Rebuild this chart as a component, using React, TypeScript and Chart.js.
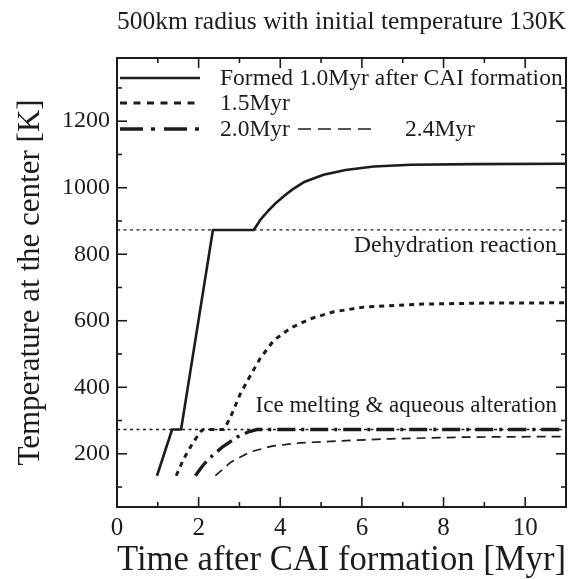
import React, { useEffect, useRef } from 'react';
import { Chart, registerables } from 'chart.js';
Chart.register(...registerables);

// ---------- text ----------
const titleText = '500km radius with initial temperature 130K';
const xTitle = 'Time after CAI formation [Myr]';
const yTitle = 'Temperature at the center [K]';
const legendLabels = ['Formed 1.0Myr after CAI formation', '1.5Myr', '2.0Myr', '2.4Myr'];
const dehydrationLabel = 'Dehydration reaction';
const iceLabel = 'Ice melting & aqueous alteration';

// ---------- axes ----------
const xMin = 0, xMax = 11, xMajorStep = 2, xMinorStep = 1;
const yMin = 40, yMax = 1390, yMajorStep = 200, yMinorStep = 100;
const xTickLabels = [0, 2, 4, 6, 8, 10];
const yTickLabels = [200, 400, 600, 800, 1000, 1200];

// ---------- reference temperatures ----------
const dehydrationTemp = 873;
const iceMeltTemp = 273;
const refLineX = [0, 11];

// ---------- series ----------
const f10X = [0.98, 1.35, 1.57, 2.35, 3.35, 3.51, 3.7, 3.9, 4.1, 4.3, 4.6, 5.06, 5.6, 6.29, 7.2, 8.75, 11];
const f10Y = [134, 273, 273, 873, 873, 903, 930, 955, 976, 995, 1018, 1039, 1053, 1064, 1069, 1071, 1072];

const f15X = [1.45, 1.63, 1.87, 2.05, 2.12, 2.62, 2.78, 3.02, 3.27, 3.51, 3.84, 4.25, 4.74, 5.31, 6.05, 7.5, 9, 11];
const f15Y = [134, 184, 235, 267, 273, 273, 310, 380, 436, 487, 541, 578, 606, 627, 641, 650, 653, 654];

const f20X = [1.92, 2.08, 2.24, 2.57, 2.94, 3.2, 3.42, 11];
const f20Y = [134, 161, 184, 219, 250, 265, 273, 273];

const f24X = [2.41, 2.78, 3.27, 3.8, 4.5, 5.5, 6.7, 8.5, 11];
const f24Y = [134, 174, 206, 223, 233, 239, 245, 250, 252];

const serif = '"Liberation Serif", "Times New Roman", serif';
const ink = '#1c1c1c';

const pts = (xs: number[], ys: number[]) => xs.map((x, i) => ({ x, y: ys[i] }));

const seriesStyles = [
  { dash: [] as number[], width: 2.6, legendDash: [] as number[] },
  { dash: [5, 5], width: 3, legendDash: [7, 6.5] },
  { dash: [18, 6, 3, 6], width: 3.4, legendDash: [23, 8, 4, 9] },
  { dash: [9, 6], width: 1.7, legendDash: [13, 7] },
];

export default function App() {
  const ref = useRef<HTMLCanvasElement>(null);
  useEffect(() => {
    const canvas = ref.current!;

    const decor = {
      id: 'decor',
      afterDatasetsDraw(chart: any) {
        const { ctx, chartArea: a, scales } = chart;
        const x = scales.x, y = scales.y;
        ctx.save();
        ctx.strokeStyle = ink;
        ctx.setLineDash([]);
        ctx.lineWidth = 1.6;
        const seg = (x1: number, y1: number, x2: number, y2: number) => {
          ctx.beginPath(); ctx.moveTo(x1, y1); ctx.lineTo(x2, y2); ctx.stroke();
        };
        for (let v = xMin; v <= xMax + 1e-9; v += xMinorStep) {
          const px = x.getPixelForValue(v);
          const len = Math.abs(v % xMajorStep) < 1e-9 ? 10 : 5;
          seg(px, a.bottom, px, a.bottom - len);
          seg(px, a.top, px, a.top + len);
        }
        const yStart = Math.ceil(yMin / yMinorStep) * yMinorStep;
        for (let v = yStart; v <= yMax + 1e-9; v += yMinorStep) {
          const py = y.getPixelForValue(v);
          const len = Math.abs(v % yMajorStep) < 1e-9 ? 10 : 5;
          seg(a.left, py, a.left + len, py);
          seg(a.right, py, a.right - len, py);
        }
        ctx.lineWidth = 2;
        ctx.strokeRect(a.left, a.top, a.right - a.left, a.bottom - a.top);
        ctx.restore();
      },
      afterDraw(chart: any) {
        const { ctx, chartArea: a, scales } = chart;
        const x = scales.x, y = scales.y;
        ctx.save();
        ctx.fillStyle = ink;
        ctx.strokeStyle = ink;
        ctx.textBaseline = 'middle';
        // reference labels
        ctx.textAlign = 'right';
        ctx.font = `24px ${serif}`;
        ctx.fillText(dehydrationLabel, x.getPixelForValue(10.78), y.getPixelForValue(dehydrationTemp) + 16);
        ctx.font = `23px ${serif}`;
        ctx.fillText(iceLabel, x.getPixelForValue(10.78), y.getPixelForValue(iceMeltTemp) - 24);
        // legend
        ctx.font = `23.5px ${serif}`;
        ctx.textAlign = 'left';
        const rows = [a.top + 20, a.top + 45, a.top + 71, a.top + 71];
        const lx0 = [a.left + 3, a.left + 3, a.left + 3, a.left + 181];
        const lx1 = [a.left + 83, a.left + 83, a.left + 83, a.left + 260];
        const tx = [a.left + 103, a.left + 103, a.left + 103, a.left + 288];
        legendLabels.forEach((lab, i) => {
          const st = seriesStyles[i];
          ctx.lineWidth = st.width;
          ctx.setLineDash(st.legendDash);
          ctx.beginPath();
          ctx.moveTo(lx0[i], rows[i]);
          ctx.lineTo(lx1[i], rows[i]);
          ctx.stroke();
          ctx.setLineDash([]);
          ctx.fillText(lab, tx[i], rows[i] + 1);
        });
        ctx.restore();
      },
    };

    const series = [pts(f10X, f10Y), pts(f15X, f15Y), pts(f20X, f20Y), pts(f24X, f24Y)];
    const datasets: any[] = series.map((d, i) => ({
      label: legendLabels[i],
      data: d,
      borderColor: ink,
      borderWidth: seriesStyles[i].width,
      borderDash: seriesStyles[i].dash,
      borderCapStyle: 'butt',
      borderJoinStyle: 'round',
      pointRadius: 0,
      tension: 0,
      fill: false,
    }));
    [dehydrationTemp, iceMeltTemp].forEach((t) => {
      datasets.unshift({
        label: 'ref',
        data: refLineX.map((xv) => ({ x: xv, y: t })),
        borderColor: ink,
        borderWidth: 1.3,
        borderDash: [3, 3.5],
        pointRadius: 0,
        fill: false,
      });
    });

    const chart = new Chart(canvas, {
      type: 'line',
      data: { datasets },
      options: {
        responsive: false,
        animation: false,
        layout: { padding: { left: 0, right: 13, top: 0, bottom: 0 } },
        plugins: {
          legend: { display: false },
          tooltip: { enabled: false },
          title: {
            display: true,
            text: titleText,
            fullSize: false,
            color: ink,
            font: { family: serif, size: 26, weight: 'normal', lineHeight: 1 },
            padding: { top: 9, bottom: 23 },
          },
        },
        scales: {
          x: {
            type: 'linear',
            min: xMin,
            max: xMax,
            grid: { display: false, drawTicks: false },
            border: { display: false },
            afterFit: (s: any) => { s.height = 72; },
            afterBuildTicks: (s: any) => { s.ticks = xTickLabels.map((v) => ({ value: v })); },
            ticks: {
              padding: 6,
              color: ink,
              maxRotation: 0,
              font: { family: serif, size: 25 },
              callback: (v: any) => String(v),
            },
            title: {
              display: true,
              text: xTitle,
              color: ink,
              font: { family: serif, size: 36, lineHeight: 1 },
              padding: { top: 0, bottom: 0 },
            },
          },
          y: {
            type: 'linear',
            min: yMin,
            max: yMax,
            grid: { display: false, drawTicks: false },
            border: { display: false },
            afterFit: (s: any) => { s.width = 117; },
            afterBuildTicks: (s: any) => { s.ticks = yTickLabels.map((v) => ({ value: v })); },
            ticks: {
              padding: 7,
              color: ink,
              font: { family: serif, size: 24 },
              callback: (v: any) => String(v),
            },
            title: {
              display: true,
              text: yTitle,
              color: ink,
              font: { family: serif, size: 31, lineHeight: 1 },
              padding: { top: 15, bottom: 0 },
            },
          },
        },
      },
      plugins: [decor],
    });
    return () => chart.destroy();
  }, []);

  return (
    <div style={{ position: 'fixed', left: 0, top: 0, width: 579, height: 579, background: '#fff' }}>
      <canvas ref={ref} width={579} height={579} style={{ display: 'block' }} />
    </div>
  );
}
